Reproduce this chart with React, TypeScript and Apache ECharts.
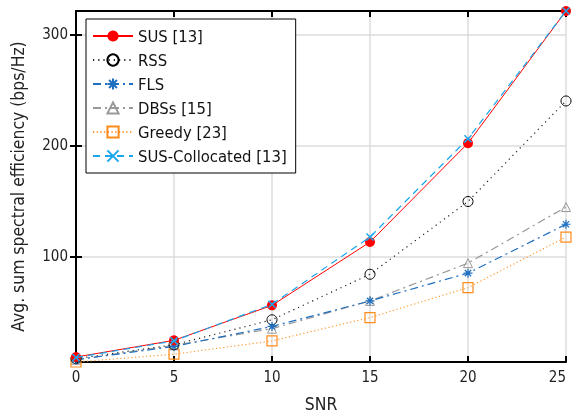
import React, { useEffect, useRef } from "react";
import * as echarts from "echarts";

const snr = [0, 5, 10, 15, 20, 25];
const susValues = [9.5, 24.5, 56, 113, 202, 321];
const rssValues = [8, 20.5, 43, 84, 149.5, 240];
const flsValues = [7, 19, 37, 60, 85, 129];
const dbssValues = [7, 20, 35, 60, 94, 144.5];
const greedyValues = [5, 12, 24, 45, 72, 117.5];
const collocatedValues = [9, 24, 57, 117.5, 206, 321];
const yTicks = [100, 200, 300];

const FONT = "'DejaVu Sans Condensed', 'DejaVu Sans', sans-serif";
const STAR = "path://M0 5 L10 5 M5 0 L5 10 M1.5 1.5 L8.5 8.5 M8.5 1.5 L1.5 8.5";
const XMARK = "path://M0 0 L10 10 M10 0 L0 10";

export default function App() {
  const ref = useRef<HTMLDivElement>(null);
  useEffect(() => {
    if (!ref.current) return;
    const chart = echarts.init(ref.current, null, { renderer: "svg" });
    const mk = (v: number[]) => snr.map((x, i) => [x, v[i]]);
    const axisLine = { show: true, lineStyle: { color: "#000", width: 2 } };
    chart.setOption({
      animation: false,
      grid: { left: 76, right: 8, top: 11, bottom: 49, containLabel: false },
      legend: {
        orient: "vertical",
        left: 86,
        top: 19,
        backgroundColor: "#fff",
        borderColor: "#000",
        borderWidth: 1,
        padding: [8, 9, 8, 6],
        itemGap: 6,
        itemWidth: 40,
        itemHeight: 14,
        textStyle: { fontFamily: FONT, fontSize: 16.5, color: "#111", lineHeight: 18 },
        data: ["SUS [13]", "RSS", "FLS", "DBSs [15]", "Greedy [23]", "SUS-Collocated [13]"],
      },
      xAxis: [
        {
          type: "value",
          min: 0,
          max: 25,
          interval: 5,
          name: "SNR",
          nameLocation: "middle",
          nameGap: 33,
          nameTextStyle: { fontFamily: FONT, fontSize: 17.4, color: "#222" },
          axisLine,
          axisTick: { show: true, inside: true, length: 6, lineStyle: { color: "#000", width: 2 } },
          axisLabel: { fontFamily: FONT, fontSize: 15, color: "#222", margin: 7, alignMaxLabel: "right" },
          splitLine: { show: true, lineStyle: { color: "#dcdcdc", width: 1.5 } },
        },
        {
          type: "value",
          position: "top",
          min: 0,
          max: 25,
          interval: 5,
          axisLine,
          axisTick: { show: true, inside: true, length: 6, lineStyle: { color: "#000", width: 2 } },
          axisLabel: { show: false },
          splitLine: { show: false },
        },
      ],
      yAxis: [
        {
          type: "value",
          min: 5,
          max: 321,
          name: "Avg. sum spectral efficiency (bps/Hz)",
          nameLocation: "middle",
          nameGap: 50,
          nameTextStyle: { fontFamily: FONT, fontSize: 17.4, color: "#222" },
          axisLine,
          axisTick: { show: true, inside: true, length: 6, customValues: yTicks, lineStyle: { color: "#000", width: 2 } },
          axisLabel: { fontFamily: FONT, fontSize: 15, color: "#222", margin: 8, customValues: yTicks },
          splitLine: { show: true, lineStyle: { color: "#dcdcdc", width: 1.5 } },
        },
        {
          type: "value",
          position: "right",
          min: 5,
          max: 321,
          axisLine,
          axisTick: { show: true, inside: true, length: 6, customValues: yTicks, lineStyle: { color: "#000", width: 2 } },
          axisLabel: { show: false, customValues: yTicks },
          splitLine: { show: false },
        },
      ],
      series: [
        {
          name: "SUS [13]",
          type: "line",
          data: mk(susValues),
          symbol: "circle",
          symbolSize: 10,
          itemStyle: { color: "#ff0000" },
          lineStyle: { color: "#ff0000", width: 1 },
          z: 5,
        },
        {
          name: "RSS",
          type: "line",
          data: mk(rssValues),
          symbol: "circle",
          symbolSize: 10,
          itemStyle: { color: "transparent", borderColor: "#000", borderWidth: 1 },
          lineStyle: { color: "#222", width: 1.2, type: [1.2, 4] },
          z: 3,
        },
        {
          name: "FLS",
          type: "line",
          data: mk(flsValues),
          symbol: STAR,
          symbolSize: 9,
          itemStyle: { color: "transparent", borderColor: "#1f6fc0", borderWidth: 1.2 },
          lineStyle: { color: "#1f6fc0", width: 1.2, type: [8, 4, 2, 4] },
          z: 3,
        },
        {
          name: "DBSs [15]",
          type: "line",
          data: mk(dbssValues),
          symbol: "triangle",
          symbolSize: 9,
          itemStyle: { color: "transparent", borderColor: "#999", borderWidth: 1 },
          lineStyle: { color: "#999", width: 1.2, type: [8, 4, 2, 4] },
          z: 2,
        },
        {
          name: "Greedy [23]",
          type: "line",
          data: mk(greedyValues),
          symbol: "rect",
          symbolSize: 10,
          itemStyle: { color: "transparent", borderColor: "#ff8c1a", borderWidth: 1.2 },
          lineStyle: { color: "#ff9933", width: 1.2, type: [1.2, 2.5] },
          z: 2,
        },
        {
          name: "SUS-Collocated [13]",
          type: "line",
          data: mk(collocatedValues),
          symbol: XMARK,
          symbolSize: 7,
          itemStyle: { color: "transparent", borderColor: "#1aa7ec", borderWidth: 1.5 },
          lineStyle: { color: "#1aa7ec", width: 1.2, type: [7, 5] },
          z: 6,
        },
      ],
    });
    return () => chart.dispose();
  }, []);
  return <div ref={ref} style={{ position: "fixed", left: 0, top: 0, width: 574, height: 417 }} />;
}
